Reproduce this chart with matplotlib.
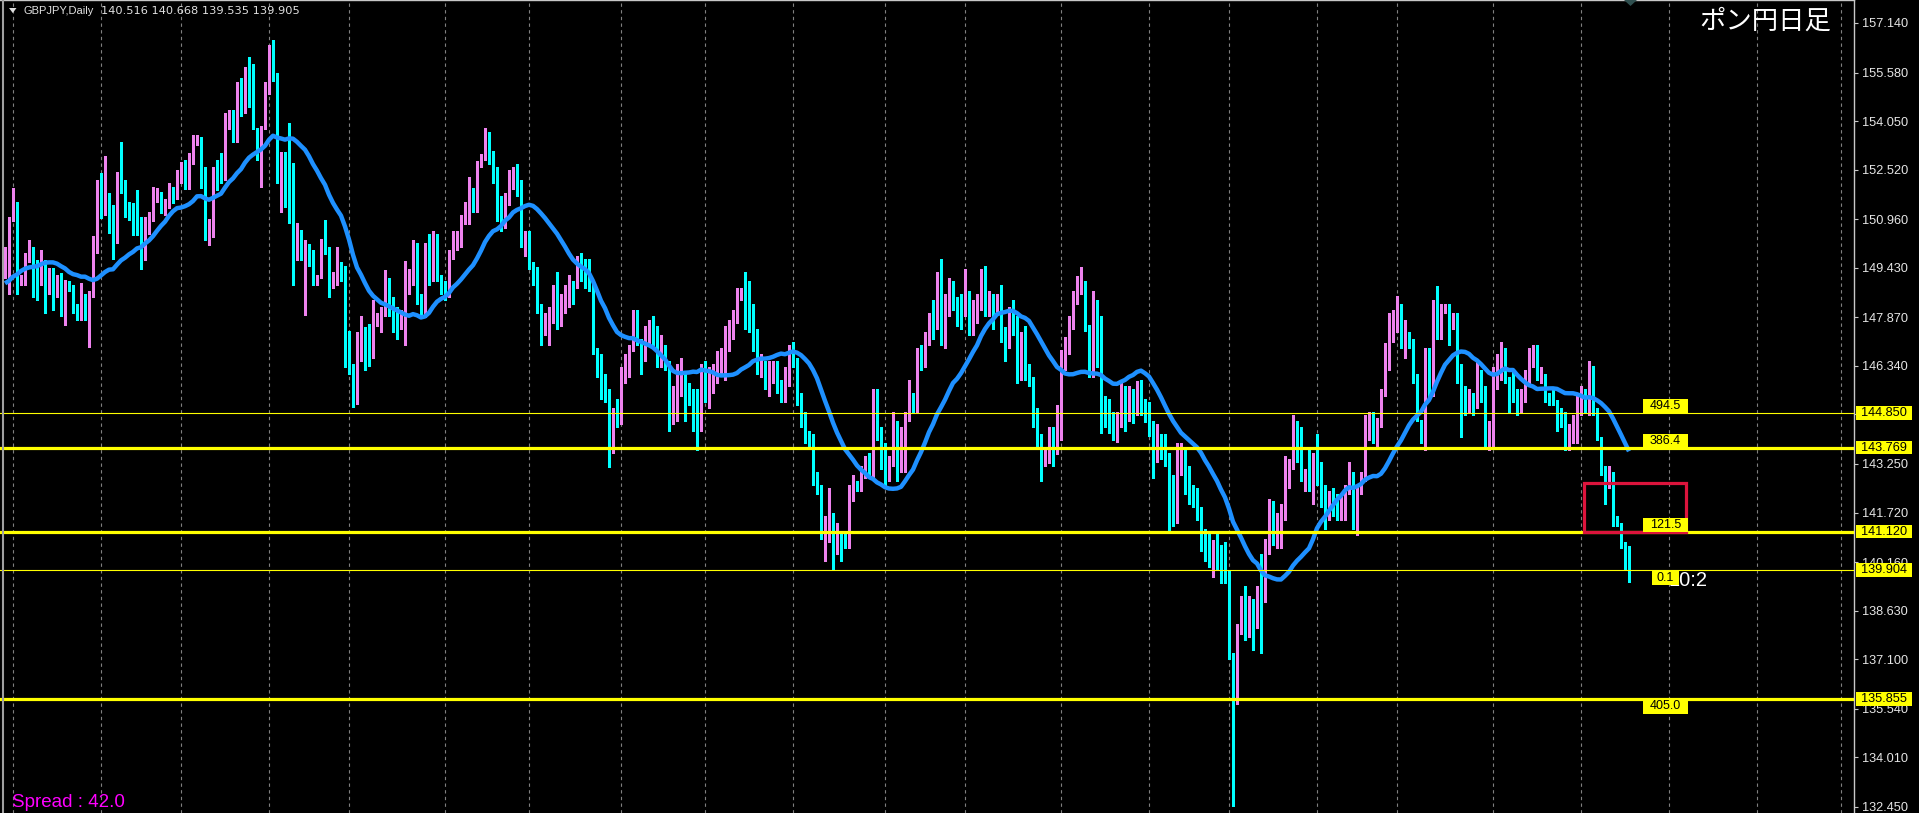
import numpy as np
import pandas as pd
import matplotlib
matplotlib.use("Agg")
import matplotlib.pyplot as plt
from matplotlib.patches import Rectangle, Polygon
import matplotlib.transforms as mtrans

plt.rcParams['font.family'] = ['Liberation Sans', 'DejaVu Sans']

# --- data ---
symbol_text = "GBPJPY,Daily"
ohlc_text = "140.516 140.668 139.535 139.905"
chart_title = "ポン円日足"
spread_text = "Spread : 42.0"
timer_text = "10:2"

first_open = 149.20
closes = [
    149.98, 150.93, 151.19, 148.94, 149.15, 149.67, 150.01, 149.25, 149.03, 149.69,
    148.94, 149.30, 148.57, 149.09, 148.18, 148.97, 148.78, 148.10, 147.91, 148.62,
    147.85, 148.62, 150.01, 152.12, 151.09, 151.40, 151.25, 150.28, 152.30, 151.86,
    151.44, 151.14, 150.98, 150.85, 149.90, 150.56, 151.06, 151.61, 151.63, 151.19,
    151.35, 151.77, 151.61, 152.09, 152.51, 151.98, 152.72, 153.35, 153.38, 152.45,
    150.40, 150.51, 152.40, 152.35, 152.24, 153.89, 154.26, 153.48, 155.06, 154.31,
    155.45, 154.63, 153.84, 153.29, 153.82, 154.90, 155.97, 155.40, 152.14, 152.77,
    151.67, 151.25, 150.30, 150.31, 149.69, 149.70, 149.56, 149.06, 149.15, 150.11,
    149.91, 148.86, 149.23, 149.45, 149.26, 146.68, 146.26, 145.84, 147.03, 147.32,
    147.26, 146.61, 147.91, 147.95, 148.02, 148.67, 148.42, 148.15, 147.73, 147.84,
    148.70, 149.13, 149.92, 148.47, 147.99, 149.96, 149.04, 150.33, 149.15, 148.92,
    148.65, 149.80, 150.30, 150.33, 150.81, 151.30, 151.93, 151.30, 152.64, 152.82,
    153.56, 152.77, 152.25, 151.15, 150.67, 151.51, 152.07, 152.38, 152.04, 150.20,
    150.37, 149.52, 149.07, 148.18, 147.47, 147.75, 147.83, 148.57, 147.78, 148.31,
    148.60, 148.94, 148.78, 149.62, 149.15, 148.99, 148.89, 146.82, 146.02, 145.37,
    145.30, 143.95, 144.63, 144.62, 146.16, 146.30, 146.89, 147.76, 147.15, 146.79,
    147.15, 147.49, 147.48, 146.40, 146.92, 146.42, 144.90, 145.30, 145.53, 145.79,
    145.68, 145.47, 144.48, 144.42, 146.16, 145.68, 145.79, 146.05, 146.23, 146.68,
    146.90, 147.26, 147.81, 148.54, 148.68, 148.39, 147.99, 147.42, 146.26, 146.31,
    145.74, 146.08, 146.29, 145.69, 145.32, 145.74, 146.68, 146.60, 145.27, 144.61,
    144.13, 144.03, 142.85, 142.33, 141.00, 141.33, 141.36, 140.52, 140.91, 140.83,
    140.75, 142.22, 142.64, 142.45, 142.96, 143.11, 143.04, 145.42, 144.32, 143.90,
    142.80, 143.27, 143.85, 143.08, 143.40, 144.66, 145.39, 145.00, 146.65, 146.37,
    147.10, 147.68, 147.49, 149.15, 147.16, 147.91, 148.89, 148.36, 148.15, 148.08,
    148.47, 147.39, 148.15, 148.23, 149.15, 148.12, 148.41, 148.10, 148.29, 147.55,
    146.95, 147.91, 147.63, 145.98, 147.01, 146.14, 145.92, 144.51, 143.99, 143.43,
    143.45, 143.73, 143.68, 144.21, 146.36, 146.73, 147.57, 148.48, 148.95, 148.98,
    147.62, 146.17, 147.59, 147.51, 145.06, 144.68, 144.54, 144.12, 144.40, 145.40,
    144.62, 145.51, 144.92, 145.76, 145.03, 144.65, 144.54, 143.32, 144.06, 143.90,
    143.43, 142.25, 141.43, 143.62, 143.65, 142.65, 142.29, 142.12, 141.73, 140.79,
    140.51, 140.40, 140.62, 140.29, 140.03, 139.90, 137.25, 135.84, 137.99, 138.88,
    138.18, 138.29, 138.14, 139.29, 138.98, 140.45, 141.84, 141.18, 141.34, 141.68,
    143.17, 143.20, 144.56, 143.79, 142.88, 142.95, 142.59, 143.23, 143.14, 142.32,
    142.14, 142.17, 142.00, 141.79, 141.90, 142.45, 142.56, 141.34, 142.32, 142.85,
    144.45, 144.64, 144.24, 144.43, 145.42, 146.50, 147.68, 147.73, 147.79, 147.18,
    147.30, 147.14, 145.92, 144.63, 144.27, 146.63, 145.53, 148.10, 147.97, 148.15,
    148.20, 147.58, 147.73, 145.90, 145.32, 145.14, 145.21, 145.05, 146.05, 145.32,
    144.30, 144.43, 145.90, 146.34, 146.65, 145.95, 145.58, 145.55, 144.97, 145.25,
    145.84, 146.34, 146.71, 146.05, 146.09, 145.37, 145.29, 145.25, 144.69, 144.64,
    143.95, 144.20, 144.43, 145.25, 145.37, 145.27, 146.34, 145.00, 144.11, 143.11,
    142.69, 142.98, 141.57, 141.38, 140.70, 140.516, 139.905,
]
highs = [
    150.10, 151.02, 151.93, 151.50, 149.20, 149.88, 150.30, 150.10, 149.67, 149.98,
    149.56, 149.41, 149.41, 149.20, 149.25, 149.05, 149.00, 148.90, 148.30, 148.96,
    148.60, 148.70, 150.44, 152.20, 152.40, 152.94, 151.78, 151.40, 152.45, 153.40,
    152.19, 151.50, 151.46, 151.88, 151.04, 151.04, 151.19, 151.98, 151.93, 151.82,
    151.60, 152.09, 151.98, 152.51, 152.77, 152.82, 153.03, 153.61, 153.61, 153.56,
    152.61, 150.98, 152.61, 152.82, 153.06, 154.29, 154.40, 154.40, 155.29, 155.40,
    155.76, 156.08, 155.86, 153.84, 153.90, 155.29, 156.44, 156.60, 155.55, 153.08,
    153.08, 154.00, 152.72, 150.83, 150.62, 150.30, 150.17, 149.98, 149.20, 150.35,
    150.93, 150.10, 149.30, 150.10, 149.60, 149.50, 147.45, 146.40, 147.40, 147.90,
    147.56, 147.66, 148.40, 148.00, 148.20, 149.35, 149.10, 148.50, 148.20, 148.10,
    149.65, 149.40, 150.30, 150.20, 148.60, 150.20, 150.50, 150.60, 150.50, 149.20,
    149.00, 150.00, 150.60, 150.60, 151.10, 151.50, 152.30, 151.95, 152.80, 153.00,
    153.83, 153.70, 153.10, 152.60, 151.70, 151.80, 152.50, 152.60, 152.70, 152.20,
    150.60, 150.60, 149.60, 149.45, 148.30, 148.00, 148.20, 148.90, 149.30, 148.60,
    148.90, 149.20, 149.00, 149.80, 149.90, 149.70, 149.70, 149.00, 146.90, 146.70,
    146.10, 145.60, 145.00, 145.30, 146.30, 146.70, 147.00, 148.10, 148.10, 147.20,
    147.60, 147.80, 147.90, 147.60, 147.30, 147.00, 146.50, 145.70, 146.40, 146.60,
    146.10, 145.80, 145.60, 145.60, 146.40, 146.50, 146.30, 146.40, 146.80, 146.90,
    147.60, 147.80, 148.10, 148.80, 148.80, 149.30, 149.00, 148.30, 147.50, 146.70,
    146.50, 146.50, 146.50, 146.50, 145.90, 146.30, 147.00, 147.10, 146.60, 145.50,
    144.90, 144.30, 144.20, 143.00, 142.60, 141.60, 142.50, 141.70, 141.40, 141.10,
    141.10, 142.60, 142.90, 142.70, 143.20, 143.50, 143.60, 145.60, 145.60, 144.40,
    143.40, 143.50, 144.90, 144.60, 144.40, 144.90, 145.90, 145.50, 146.90, 147.00,
    147.40, 148.00, 148.40, 149.30, 149.70, 148.60, 149.10, 149.00, 148.50, 148.60,
    149.40, 148.70, 148.40, 148.60, 149.40, 149.50, 148.70, 148.60, 148.60, 148.90,
    147.20, 148.20, 148.40, 147.90, 147.40, 147.60, 146.40, 146.00, 145.00, 144.20,
    143.70, 144.40, 144.40, 145.12, 146.84, 147.25, 147.90, 148.70, 149.18, 149.47,
    149.00, 147.60, 148.70, 148.40, 147.90, 145.40, 145.30, 144.90, 144.90, 145.90,
    145.70, 145.70, 145.60, 145.85, 145.90, 145.30, 145.20, 144.60, 144.50, 144.20,
    144.20, 143.60, 142.90, 143.90, 143.90, 143.70, 143.20, 142.60, 142.50, 141.90,
    141.20, 141.12, 140.85, 141.10, 140.70, 140.80, 139.35, 137.30, 138.20, 139.10,
    139.40, 139.10, 139.00, 139.40, 140.40, 140.90, 142.15, 142.10, 141.70, 142.00,
    143.50, 143.40, 144.78, 144.60, 144.40, 143.10, 143.70, 143.60, 144.20, 143.30,
    142.60, 142.40, 142.50, 142.30, 142.30, 142.60, 143.30, 143.00, 142.60, 143.00,
    144.80, 144.90, 144.90, 144.70, 145.60, 147.05, 148.00, 148.10, 148.55, 148.30,
    147.80, 147.40, 147.20, 146.10, 144.50, 146.90, 146.90, 148.40, 148.85, 148.30,
    148.30, 148.30, 148.00, 148.00, 146.40, 145.70, 145.60, 145.50, 146.50, 146.20,
    145.70, 144.60, 146.30, 146.70, 147.10, 146.90, 146.00, 146.20, 145.60, 145.60,
    146.20, 146.90, 147.00, 147.00, 146.30, 146.10, 145.50, 145.60, 145.20, 145.00,
    144.90, 144.50, 144.80, 145.50, 145.70, 145.60, 146.50, 146.30, 145.00, 144.10,
    143.20, 143.20, 143.00, 141.60, 141.40, 140.80, 140.668,
]
lows = [
    149.10, 148.62, 150.90, 148.62, 148.90, 148.90, 149.60, 148.52, 148.41, 148.90,
    148.00, 148.60, 148.10, 148.50, 147.91, 147.62, 148.70, 148.00, 147.78, 147.78,
    147.80, 146.94, 148.50, 149.90, 151.00, 151.25, 150.51, 149.72, 150.20, 151.80,
    151.04, 150.93, 150.46, 150.46, 149.38, 149.67, 150.50, 150.90, 151.50, 151.14,
    151.10, 151.30, 151.46, 151.60, 152.40, 151.90, 151.90, 152.70, 153.30, 151.93,
    150.30, 150.14, 150.40, 151.88, 152.09, 152.20, 153.80, 153.40, 153.40, 154.20,
    154.30, 154.50, 153.80, 152.82, 151.98, 153.80, 154.90, 155.30, 152.10, 151.19,
    151.35, 150.83, 148.88, 149.67, 149.67, 147.94, 149.50, 148.88, 148.90, 149.10,
    149.85, 148.52, 148.80, 148.90, 149.00, 146.30, 146.10, 145.06, 145.14, 146.50,
    146.20, 146.34, 146.60, 147.60, 147.40, 147.90, 147.90, 147.40, 147.20, 147.50,
    147.00, 148.60, 148.90, 148.30, 147.90, 147.87, 148.90, 149.00, 149.00, 148.60,
    148.40, 148.50, 149.70, 150.00, 150.10, 150.80, 150.80, 151.20, 151.20, 152.60,
    152.90, 152.70, 152.10, 150.90, 150.60, 150.80, 151.40, 151.90, 151.70, 150.10,
    149.80, 149.40, 148.90, 148.00, 147.00, 147.30, 147.00, 147.70, 147.50, 147.60,
    148.00, 148.20, 148.30, 148.80, 149.00, 148.80, 148.70, 146.70, 146.00, 145.30,
    145.20, 143.17, 143.60, 144.40, 144.50, 145.80, 146.00, 146.80, 147.00, 146.10,
    146.50, 147.00, 147.00, 146.30, 146.30, 146.20, 144.30, 144.50, 144.60, 145.40,
    144.60, 145.10, 144.30, 143.70, 144.30, 145.20, 145.00, 145.50, 145.80, 146.10,
    145.90, 146.80, 147.20, 147.70, 148.40, 147.50, 147.40, 146.80, 146.10, 146.00,
    145.60, 145.40, 145.80, 145.50, 145.20, 145.20, 145.70, 146.30, 145.10, 144.40,
    143.90, 143.80, 142.60, 142.30, 140.90, 140.20, 140.80, 139.90, 140.40, 140.20,
    140.60, 140.60, 142.10, 142.40, 142.40, 142.80, 142.80, 142.80, 144.00, 143.10,
    142.60, 142.70, 143.20, 142.70, 143.00, 143.00, 144.60, 144.90, 144.90, 146.20,
    146.30, 147.00, 147.20, 147.50, 147.00, 146.90, 147.90, 148.10, 147.60, 147.50,
    147.90, 147.30, 147.30, 147.70, 148.10, 147.90, 147.90, 147.50, 148.00, 147.10,
    146.50, 146.90, 147.30, 145.80, 145.90, 145.90, 145.70, 144.40, 143.80, 142.73,
    143.20, 143.29, 143.20, 143.56, 144.00, 146.20, 146.80, 147.50, 148.30, 148.60,
    147.45, 146.00, 146.00, 146.30, 144.23, 144.40, 144.23, 144.00, 143.95, 144.40,
    144.30, 144.90, 144.54, 144.80, 144.80, 144.56, 144.12, 142.80, 143.30, 143.40,
    143.20, 141.12, 141.30, 141.40, 142.90, 142.30, 142.00, 141.90, 141.50, 140.50,
    140.20, 140.00, 139.70, 139.95, 139.50, 139.50, 137.10, 132.48, 135.70, 137.90,
    137.70, 137.80, 137.40, 138.10, 137.30, 138.90, 140.40, 140.70, 140.60, 140.60,
    141.50, 142.50, 143.10, 143.30, 142.70, 142.40, 142.40, 142.00, 142.60, 141.90,
    141.20, 141.50, 141.60, 141.50, 141.50, 141.50, 142.30, 141.20, 141.00, 142.60,
    142.70, 144.00, 143.90, 143.80, 144.60, 145.40, 146.20, 147.10, 147.40, 146.90,
    146.60, 146.90, 145.80, 144.60, 143.90, 143.70, 145.40, 145.40, 147.20, 147.20,
    148.00, 147.00, 147.50, 145.80, 144.10, 144.80, 144.90, 144.80, 145.00, 145.20,
    143.80, 143.70, 143.80, 145.60, 145.90, 145.80, 144.90, 145.20, 144.80, 144.90,
    145.20, 145.70, 146.30, 145.90, 145.80, 145.20, 145.10, 145.10, 144.30, 144.40,
    143.70, 143.70, 143.90, 143.90, 144.80, 144.90, 144.80, 144.80, 144.00, 142.90,
    142.00, 142.50, 141.30, 141.30, 140.60, 139.90, 139.535,
]
# moving average before its window fills
ma_head = [148.94, 149.02, 149.15, 149.22, 149.33, 149.40, 149.44, 149.46, 149.48, 149.54,
           149.59, 149.60, 149.60, 149.56, 149.48, 149.41, 149.30, 149.23, 149.20, 149.15]
ma_period = 21

month_bars = [2, 24, 44, 66, 86, 110, 131, 154, 175, 197, 220, 240, 264, 286, 306,
              328, 348, 372, 394, 416, 438, 459]

level_prices = [144.850, 143.769, 141.120, 139.904, 135.855]
level_tags = ["144.850", "143.769", "141.120", "139.904", "135.855"]
level_labels = ["494.5", "386.4", "121.5", "0.1", "405.0"]
level_thick = [False, True, True, False, True]
level_below = [False, False, False, True, True]

axis_ticks = [157.140, 155.580, 154.050, 152.520, 150.960, 149.430, 147.870, 146.340,
              144.810, 143.250, 141.720, 140.160, 138.630, 137.100, 135.540, 134.010, 132.450]

zone_bars = (394.75, 420.25)
zone_prices = (141.12, 142.65)

# --- figure ---
W, H = 1919, 813
AX_W = 1854
fig = plt.figure(figsize=(W / 100, H / 100), dpi=100, facecolor='black')
ax = fig.add_axes([0, 0, AX_W / W, 1])
ax.set_facecolor('black')
xmin, xmax = -1.25, 462.25
ymin, ymax = 132.258, 157.864
ax.set_xlim(xmin, xmax)
ax.set_ylim(ymin, ymax)
px_x = (xmax - xmin) / AX_W   # bars per pixel
px_y = (ymax - ymin) / H      # price per pixel

c = np.array(closes)
o = np.r_[first_open, c[:-1]]
hi = np.maximum(np.array(highs), np.maximum(o, c))
lo = np.minimum(np.array(lows), np.minimum(o, c))
x = np.arange(len(c))
up = c >= o
cols = np.where(up, '#EE82EE', '#00FFFF')

# month grid
for b in month_bars:
    ax.axvline(b, color='#808080', linestyle=(0, (3, 3)), lw=0.8, zorder=1)

# candles
ax.vlines(x, lo, hi, colors=cols, lw=1.0, zorder=2, antialiased=False)
body_lo = np.minimum(o, c)
body_h = np.maximum(np.abs(c - o), px_y)
ax.bar(x, body_h, bottom=body_lo, width=0.75, color=cols, linewidth=0, zorder=2,
       antialiased=False)

# moving average
ma = pd.Series(c).rolling(ma_period).mean().to_numpy()
ma[:len(ma_head)] = ma_head
ax.plot(x, ma, color='#1E90FF', lw=3.2, zorder=3, solid_capstyle='butt')

# horizontal levels
for p, thick in zip(level_prices, level_thick):
    ax.axhline(p, color='#FFFF00', lw=2.3 if thick else 0.8, zorder=3.2)

# zone rectangle
ax.add_patch(Rectangle((zone_bars[0], zone_prices[0]), zone_bars[1] - zone_bars[0],
                       zone_prices[1] - zone_prices[0], fill=False, ec='#DC143C',
                       lw=2.3, zorder=4))

# timer text (partly hidden behind a label box)
ax.text(1708 * px_x + xmin, 139.904 - 10 * px_y, timer_text, color='white', fontsize=14.5,
        ha='right', va='center', zorder=4.5)

# level value boxes in the chart
cx = 415.1
for p, lab, below in zip(level_prices, level_labels, level_below):
    bw = 9 * len(lab) * px_x
    bh = (15 if below else 14) * px_y
    y0 = p - bh if below else p
    ax.add_patch(Rectangle((cx - bw / 2, y0), bw, bh, fc='#FFFF00', ec='none', zorder=5))
    ax.text(cx, y0 + bh / 2, lab, color='black', fontsize=9, ha='center', va='center',
            zorder=6)

# price axis on the right
ax.yaxis.tick_right()
ax.set_yticks(axis_ticks)
ax.set_yticklabels([f"{t:.3f}" for t in axis_ticks])
ax.tick_params(axis='y', direction='out', length=3, width=0.8, color='#C8C8C8',
               labelcolor='#E6E6E6', labelsize=9.2, pad=3)
ax.set_xticks([])
for side in ['left', 'bottom']:
    ax.spines[side].set_visible(False)
ax.spines['right'].set_color('#C8C8C8')
ax.spines['top'].set_color('#C8C8C8')
ax.spines['right'].set_linewidth(1)
ax.spines['top'].set_linewidth(1)

trans = mtrans.blended_transform_factory(ax.transAxes, ax.transData)
for p, tag in zip(level_prices, level_tags):
    ax.add_patch(Rectangle((1856 / AX_W, p - 6.8 * px_y), 56 / AX_W, 13.6 * px_y,
                           transform=trans, fc='#FFFF00', ec='none', clip_on=False, zorder=7))
    ax.text(1884 / AX_W, p, tag, transform=trans, color='black', fontsize=9.2,
            ha='center', va='center', clip_on=False, zorder=8)

# left frame line
fig.add_artist(plt.Line2D([2.5 / W, 2.5 / W], [0, 1], color='#A0A0A0', lw=1.5))

# header text
fig.add_artist(Polygon([[9 / W, 1 - 8 / H], [16.5 / W, 1 - 8 / H], [12.75 / W, 1 - 13 / H]],
                       closed=True, fc='#E0E0E0', ec='none'))
fig.text(23 / W, 1 - 11 / H, symbol_text, color='#E0E0E0', fontsize=8, va='center')
fig.text(101 / W, 1 - 11 / H, ohlc_text, color='#E0E0E0', fontsize=8.2, va='center',
         family=['DejaVu Sans'])

# shift marker
fig.add_artist(Polygon([[1624 / W, 1.0], [1637 / W, 1.0], [1630.5 / W, 1 - 6 / H]],
                       closed=True, fc='#2F4F4F', ec='none'))

fig.text(1831 / W, 1 - 21 / H, chart_title, color='white', fontsize=19, ha='right',
         va='center', family=['Noto Sans CJK JP', 'DejaVu Sans'])
fig.text(12 / W, 1 - 802 / H, spread_text, color='#FF00FF', fontsize=13.5, va='center')

fig.savefig('out.png', dpi=100, facecolor='black')
